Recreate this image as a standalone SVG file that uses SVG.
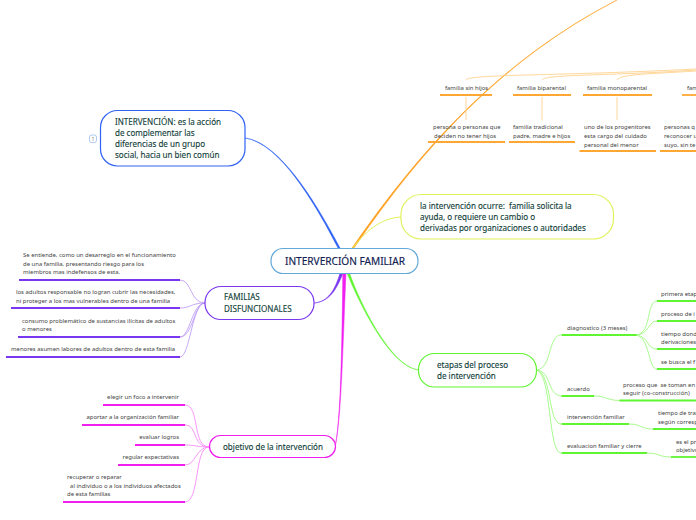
<svg xmlns="http://www.w3.org/2000/svg" width="696" height="520" viewBox="0 0 696 520">
<style>
text{font-family:"Noto Sans","Open Sans",sans-serif;fill:#444;font-size:5.95px;white-space:pre}
.n text{fill:#0f4038;font-size:8.05px;stroke:#0f4038;stroke-width:.12px}
.c{fill:none;stroke-linecap:round}
.b{fill:#fff;stroke-width:1.2}
.u{fill:none;stroke-width:1.8}
.o{stroke:#ffa733}.ol{stroke:#ffd79a;fill:none;stroke-width:1}
.g{stroke:#5ff530}.gl{stroke:#a8fb8e;fill:none;stroke-width:1}
.p{stroke:#7a37f2}.pl{stroke:#b894f7;fill:none;stroke-width:.8}
.m{stroke:#f01ff0}.ml{stroke:#f88cf8;fill:none;stroke-width:.9}
</style>
<g id="connectors">
<path d="M352 248C420 150 500 60 617 0C500 60.600 420.600 150.600 354 248Z" fill="#ff9f1c" stroke="#ff9f1c" stroke-width=".5"/>
<path d="M338 248C316 205 280 143 245 138C280.400 142.600 317.200 205 340 248Z" fill="#2f62f5" stroke="#2f62f5" stroke-width=".5"/>
<path class="c" d="M352 249C365 232 380 218 401 217" stroke="#dff25a" stroke-width="1"/>
<path d="M340 273C335 290 328 302 314 303C329 302 336.500 290 343 273Z" fill="#7a37f2" stroke="#7a37f2" stroke-width=".5"/>
<path d="M342.800 273C342 340 341 420 335 447C341.500 420 343 340 346 273Z" fill="#f01ff0" stroke="#f01ff0" stroke-width=".5"/>
<path d="M347 273C360 305 390 366 418 370C390.600 365.500 360.600 304.500 349.500 273Z" fill="#5ff530" stroke="#5ff530" stroke-width=".5"/>
<path class="ol" d="M466 80C468 74 560 76 696 69"/>
<path class="ol" d="M542 80C545 74 610 76 696 70"/>
<path class="ol" d="M617 80C620 74 650 74 696 71"/>
<path class="ol" d="M466 97V120M542 97V120M617 97V120"/>
<path class="gl" d="M537 370C552 368 548 335 561 335M537 370C552 372 547 396 562 396M537 370C552 374 548 424 561 424M537 370C552 376 548 453 561 453"/>
<path class="gl" d="M636 335C652 334 646 301 657 301M636 335C650 334 648 321 657 321M636 335C650 337 646 349 657 349M636 335C650 337 648 369 657 369"/>
<path class="gl" d="M594 396C607 396 607 400.500 620 400.500M629 424C642 424 640 429 653 429M647 453C660 453 658 457 671 457"/>
<path class="pl" d="M205 303C190 303 192 280 180 280M205 303C192 303 190 308 180 308M205 303C192 303 190 337 180 337M205 303C192 303 190 357 180 357M205 303C194 303 193 337 180 337"/>
<path class="ml" d="M209 447C192 447 200 405 185 405M209 447C192 447 198 425 185 425M209 447C196 447 196 445 185 445M209 447C196 447 196 465 185 465M209 447C194 447 200 502 185 502"/>
</g>
<g id="center"><rect x="271" y="248.500" width="147" height="25" rx="12" fill="#fff" stroke="#62a8d8" stroke-width="1.2"/><text x="285" y="265" style="font-size:10.100px;fill:#10204f;stroke:#10204f;stroke-width:.15px">INTERVERCIÓN FAMILIAR</text></g>
<g id="definicion" class="n"><rect class="b" x="100.500" y="110.500" width="144.500" height="55.500" rx="17" stroke="#2f62f5"/><text x="115" y="125">INTERVENCIÓN: es la acción</text><text x="115" y="136">de complementar las</text><text x="115" y="147">diferencias de un grupo</text><text x="115" y="158">social, hacia un bien común</text></g>
<g id="badge"><rect x="89.500" y="135" width="7" height="7.500" rx="2" fill="#fff" stroke="#8bb4e8" stroke-width=".7"/><text x="93" y="141" text-anchor="middle" style="font-size:5px;fill:#777">1</text></g>
<g id="ocurre" class="n"><rect class="b" x="401" y="194.500" width="212.500" height="44.500" rx="20" stroke="#dff25a"/><text x="420" y="209">la intervención ocurre:  familia solicita la</text><text x="420" y="220">ayuda, o requiere un cambio o</text><text x="420" y="231">derivadas por organizaciones o autoridades</text></g>
<g id="disfuncionales" class="n"><rect class="b" x="205" y="286.500" width="109" height="33" rx="16" stroke="#7a37f2"/><text x="224" y="300">FAMILIAS</text><text x="224" y="311.500">DISFUNCIONALES</text></g>
<g id="objetivo" class="n"><rect class="b" x="209.500" y="435.500" width="126" height="22" rx="11" stroke="#f01ff0"/><text x="223" y="449.500">objetivo de la intervención</text></g>
<g id="etapas" class="n"><rect class="b" x="418.500" y="353.500" width="118" height="33.500" rx="16" stroke="#5ff530"/><text x="437" y="368">etapas del proceso</text><text x="437" y="379">de intervención</text></g>
<g id="familia-sin-hijos"><text x="445" y="90">familia sin hijos</text><path class="u o" d="M440 95H492"/></g>
<g id="familia-biparental"><text x="517" y="90">familia biparental</text><path class="u o" d="M513 95H571"/></g>
<g id="familia-monoparental"><text x="587" y="90">familia monoparental</text><path class="u o" d="M583 95H652"/></g>
<g id="familia-4"><text x="687" y="90">fam</text><path class="u o" d="M682 95H696"/></g>
<g id="hijos-texto"><text x="433" y="129">persona o personas que</text><text x="434" y="137.500">deciden no tener hijos</text><path class="u o" d="M428 142H505"/></g>
<g id="biparental-texto"><text x="513" y="129">familia tradicional</text><text x="513" y="137.500">padre, madre e hijos</text><path class="u o" d="M509 142H575"/></g>
<g id="monoparental-texto"><text x="584" y="129">uno de los progenitores</text><text x="584" y="137.500">esta cargo del cuidado</text><text x="584" y="146.500">personal del menor</text><path class="u o" d="M579.500 151H656"/></g>
<g id="otro-texto"><text x="664" y="129">personas q</text><text x="664" y="137.500">reconocer u</text><text x="664" y="146.500">suyo, sin te</text><path class="u o" d="M660 151H696"/></g>
<g id="def1"><text x="23" y="257">Se entiende, como un desarreglo en el funcionamiento</text><text x="23" y="266">de una familia, presentando riesgo para los</text><text x="23" y="274">miembros mas indefensos de esta.</text><path class="u p" d="M19 280H180"/></g>
<g id="def2"><text x="16" y="294">los adultos responsable no logran cubrir las necesidades,</text><text x="16" y="303">ni proteger a los mas vulnerables dentro de una familia</text><path class="u p" d="M11 308H180"/></g>
<g id="def3"><text x="22" y="323">consumo problemático de sustancias ilícitas de adultos</text><text x="22" y="331">o menores</text><path class="u p" d="M18 337H180"/></g>
<g id="def4"><text x="11" y="351">menores asumen labores de adultos dentro de esta familia</text><path class="u p" d="M6 357H180"/></g>
<g id="obj1"><text x="179" y="399" text-anchor="end">elegir un foco a intervenir</text><path class="u m" d="M103 405H185"/></g>
<g id="obj2"><text x="179" y="419" text-anchor="end">aportar a la organización familiar</text><path class="u m" d="M82 425H185"/></g>
<g id="obj3"><text x="179" y="439" text-anchor="end">evaluar logros</text><path class="u m" d="M135 445H185"/></g>
<g id="obj4"><text x="179" y="459" text-anchor="end">regular expectativas</text><path class="u m" d="M118 465H185"/></g>
<g id="obj5"><text x="67" y="479">recuperar o reparar</text><text x="67" y="487.500">  al individuo o a los individuos afectados</text><text x="67" y="496">de esta familias</text><path class="u m" d="M63 502H185"/></g>
<g id="diagnostico"><text x="567" y="330">diagnostico (3 meses)</text><path class="u g" d="M561.500 335H636.500"/></g>
<g id="acuerdo"><text x="567" y="391">acuerdo</text><path class="u g" d="M561.500 396H594"/></g>
<g id="intervencion"><text x="567" y="419">intervención familiar</text><path class="u g" d="M561.500 424H629"/></g>
<g id="evaluacion"><text x="567" y="448">evaluacion familiar y cierre</text><path class="u g" d="M561.500 453H647"/></g>
<g id="etapa1"><text x="661" y="296">primera etap</text><path class="u g" d="M657 301H696"/></g>
<g id="etapa2"><text x="661" y="316">proceso de i</text><path class="u g" d="M657 321H696"/></g>
<g id="etapa3"><text x="661" y="336">tiempo dond</text><text x="661" y="344">derivaciones</text><path class="u g" d="M657 349H696"/></g>
<g id="etapa4"><text x="661" y="364">se busca el f</text><path class="u g" d="M657 369H696"/></g>
<g id="acuerdo-texto"><text x="623" y="387">proceso que  se toman en a</text><text x="623" y="395">seguir (co-construcción)</text><path class="u g" d="M619.500 400.500H696"/></g>
<g id="intervencion-texto"><text x="658" y="415">tiempo de trab</text><text x="658" y="424">según corresp</text><path class="u g" d="M653 429H696"/></g>
<g id="evaluacion-texto"><text x="676" y="444">es el pr</text><text x="676" y="452">objetivo</text><path class="u g" d="M671 457H696"/></g>
</svg>
